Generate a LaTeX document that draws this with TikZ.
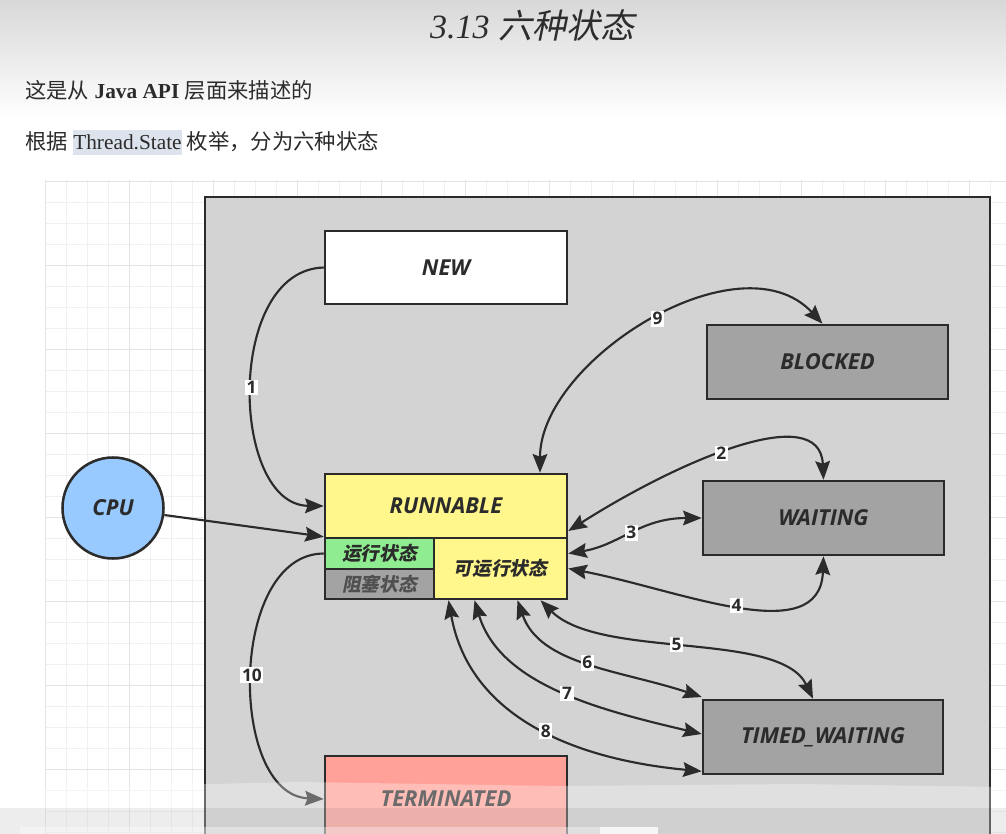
\documentclass[tikz,border=0pt]{standalone}
\usepackage{fontspec}
\setmainfont{Liberation Serif}
\newfontfamily\cjk{Noto Sans CJK SC}
\newfontfamily\cjksl{Noto Sans CJK SC}[FakeSlant=0.2]
\newfontfamily\osans{Open Sans}
\usetikzlibrary{arrows.meta,calc}
\definecolor{ink}{HTML}{2B2B2B}
\definecolor{boxgray}{HTML}{D3D3D3}
\definecolor{stgray}{HTML}{A3A3A3}
\definecolor{runyel}{RGB}{255,247,140}
\definecolor{rungreen}{RGB}{144,236,144}
\definecolor{cpublue}{RGB}{153,202,255}
\definecolor{termred}{RGB}{255,161,152}
\definecolor{hl}{HTML}{DDE3EC}
\definecolor{gridminor}{HTML}{F0F0F0}
\definecolor{gridmajor}{HTML}{E4E4E4}
\begin{document}
\begin{tikzpicture}[x=0.75pt,y=-0.75pt,
  state/.style={draw=ink, line width=1.9pt, inner sep=0pt, text=ink,
    font=\osans\bfseries\itshape\fontsize{16.5}{19}\selectfont},
  cstate/.style={draw=ink, line width=1.9pt, inner sep=0pt, text=ink,
    font=\cjksl\bfseries\fontsize{14}{16}\selectfont},
  conn/.style={draw=ink, line width=1.6pt,
    >={Stealth[length=14pt,width=11pt,inset=2pt]}},
  lbl/.style={fill=white, inner sep=1.2pt, text=ink,
    font=\osans\bfseries\fontsize{13}{14}\selectfont}]
\useasboundingbox (0,0) rectangle (1006,834);
\clip (0,0) rectangle (1006,834);
% page background
\fill[white] (0,0) rectangle (1006,834);
\shade[top color={rgb,255:red,216;green,216;blue,216}, bottom color=white] (0,0) rectangle (1006,118);
% grid
\foreach \x in {45,66,...,1006} \draw[gridminor, line width=0.6pt] (\x,180) -- (\x,834);
\foreach \y in {181,202,...,834} \draw[gridminor, line width=0.6pt] (45,\y) -- (1006,\y);
\foreach \x in {45,129,...,1006} \draw[gridmajor, line width=0.7pt] (\x,180) -- (\x,834);
\foreach \y in {181,265,...,834} \draw[gridmajor, line width=0.7pt] (45,\y) -- (1006,\y);
% header texts
\node[text={rgb,255:red,45;green,45;blue,45}, inner sep=0pt] (title) at (532,25)
  {\fontsize{25.5}{30}\selectfont\itshape 3.13 {\cjksl 六种状态}};
\node[anchor=west, inner sep=0pt, text=ink] (line1) at (25,90)
  {\fontsize{16}{19}\selectfont{\cjk 这是从} \textbf{Java API} {\cjk 层面来描述的}};
\fill[hl] (73,130) rectangle (182,155);
\node[anchor=west, inner sep=0pt, text=ink] (line2) at (25,142)
  {\fontsize{16}{19}\selectfont{\cjk 根据} Thread.State {\cjk 枚举，分为六种状态}};
% container
\draw[fill=boxgray, draw=ink, line width=1.9pt] (205,197) rectangle (990,870);
% states
\node[state, fill=white, minimum width=181.5pt, minimum height=54.75pt] (new) at (446,267.5) {NEW};
\node[state, fill=stgray, minimum width=180.75pt, minimum height=55.5pt] (blocked) at (827.5,362) {BLOCKED};
\node[state, fill=stgray, minimum width=180.75pt, minimum height=55.5pt] (waiting) at (823.5,518) {WAITING};
\node[state, fill=stgray, minimum width=180pt, minimum height=55.5pt] (timed) at (823,737) {TIMED\_WAITING};
\node[state, fill=runyel, minimum width=181.5pt, minimum height=48pt] (runtop) at (446,506) {RUNNABLE};
\node[cstate, fill=rungreen, minimum width=81.75pt, minimum height=23.25pt] (run) at (379.5,553.5) {运行状态};
\node[cstate, fill=stgray, text={rgb,255:red,80;green,80;blue,80}, minimum width=81.75pt, minimum height=22.5pt] (block) at (379.5,584) {阻塞状态};
\node[cstate, fill=runyel, minimum width=99.75pt, minimum height=45.75pt] (ready) at (500.5,568.5) {可运行状态};
\node[state, fill=termred, minimum width=181.5pt, minimum height=64.5pt] (term) at (446,799) {TERMINATED};
\node[state, circle, fill=cpublue, minimum size=75.75pt] (cpu) at (113,508) {CPU};
% connectors
\draw[conn,->] (cpu) -- (run.north west);
\draw[conn,->] (new.west) .. controls (225,270) and (230,505) .. (runtop.west)
  node[lbl, pos=0.5] {1};
\draw[conn,->] (run.west) .. controls (228,554) and (228,795) .. (term.west)
  node[lbl, pos=0.5] {10};
\draw[conn,<->] ($(runtop.north)+(94,0)$) .. controls (540,360) and (740,235) .. ($(blocked.north)+(-5,0)$)
  node[lbl, pos=0.52] {9};
\draw[conn,<->] ($(runtop.east)+(0,25)$) .. controls (680,460) and (820,400) .. (waiting.north)
  node[lbl, pos=0.45] {2};
\draw[conn,<->] ($(ready.east)+(0,-15)$) .. controls (620,545) and (640,518) .. (waiting.west)
  node[lbl, pos=0.5] {3};
\draw[conn,<->] (ready.east) .. controls (680,590) and (820,650) .. (waiting.south)
  node[lbl, pos=0.5] {4};
\draw[conn,<->] ($(ready.south)+(40,0)$) .. controls (600,660) and (780,630) .. ($(timed.north)+(-10,0)$)
  node[lbl, pos=0.47] {5};
\draw[conn,<->] ($(ready.south)+(17,0)$) .. controls (540,665) and (620,670) .. ($(timed.west)+(0,-40)$)
  node[lbl, pos=0.5] {6};
\draw[conn,<->] ($(ready.south)+(-26,0)$) .. controls (500,685) and (600,710) .. ($(timed.west)+(0,-3)$)
  node[lbl, pos=0.53] {7};
\draw[conn,<->] ($(ready.south)+(-52,0)$) .. controls (470,720) and (580,760) .. ($(timed.south west)+(0,-4)$)
  node[lbl, pos=0.53] {8};
% faded bottom band of the screenshot
\fill[white, opacity=0.3] (0,788) -- (120,786) -- (300,782) -- (560,786) -- (800,784) -- (1006,787) -- (1006,834) -- (0,834) -- cycle;
\fill[black, opacity=0.07] (0,808) rectangle (1006,834);
\fill[white, opacity=0.35] (20,827) rectangle (600,834);
\fill[white, opacity=0.8] (600,827) rectangle (658,834);
\end{tikzpicture}
\end{document}
